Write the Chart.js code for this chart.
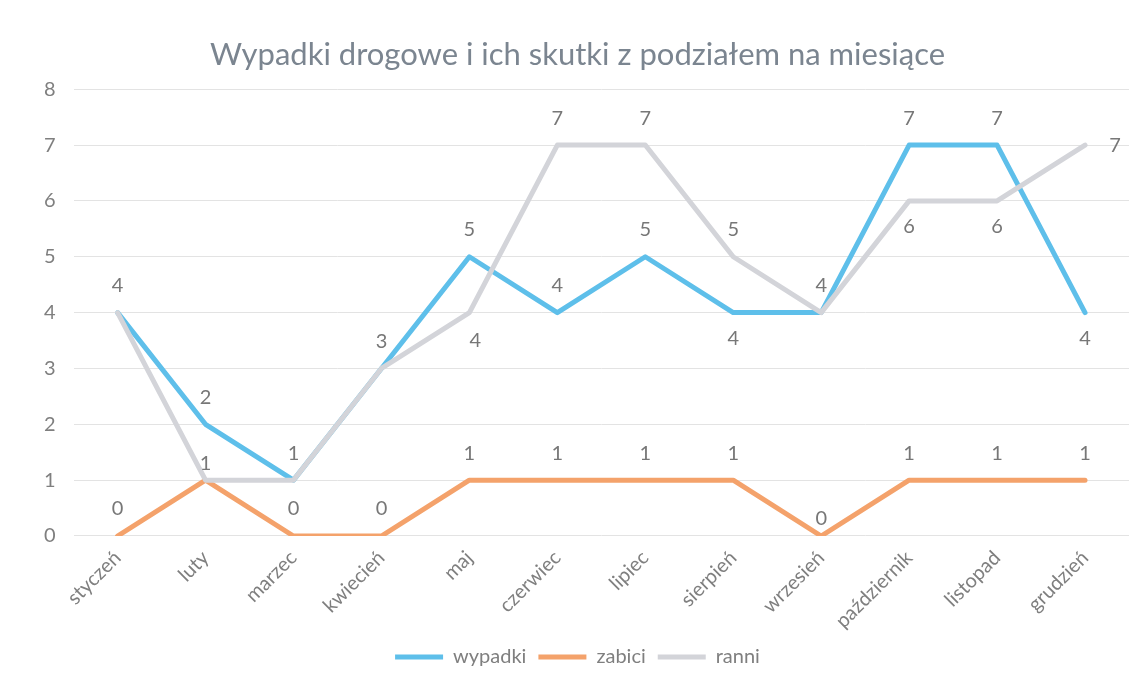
<!DOCTYPE html>
<html>
<head>
<meta charset="utf-8">
<script src="https://cdn.jsdelivr.net/npm/chart.js@4.4.1/dist/chart.umd.min.js"></script>
<style>
  html, body { margin: 0; padding: 0; background: #fff; }
  #wrap { width: 1147px; height: 686px; }
</style>
</head>
<body>
<div id="wrap"><canvas id="accidentsChart"></canvas></div>
<script>
// data
const months = ['styczeń', 'luty', 'marzec', 'kwiecień', 'maj', 'czerwiec', 'lipiec', 'sierpień', 'wrzesień', 'październik', 'listopad', 'grudzień'];
const wypadki = [4, 2, 1, 3, 5, 4, 5, 4, 4, 7, 7, 4];
const zabici = [0, 1, 0, 0, 1, 1, 1, 1, 0, 1, 1, 1];
const ranni = [4, 1, 1, 3, 4, 7, 7, 5, 4, 6, 6, 7];

// where each value label sits: t = above, ts = just above, b = below, r = right, br = below right, '' = hidden
const wypadkiLabelPos = ['t', 't', 't', 't', 't', 't', 't', 'b', 't', 't', 't', 'b'];
const zabiciLabelPos = ['t', '', 't', 't', 't', 't', 't', 't', 'ts', 't', 't', 't'];
const ranniLabelPos = ['', 'ts', '', '', 'br', 't', 't', 't', '', 'b', 'b', 'r'];

const fontFamily = 'Lato, "Open Sans", sans-serif';
const textGray = '#7f7f7f';

const valueLabels = {
    id: 'valueLabels',
    afterDatasetsDraw(chart) {
        const ctx = chart.ctx;
        ctx.save();
        ctx.font = '20px ' + fontFamily;
        ctx.fillStyle = '#777';
        ctx.textAlign = 'center';
        ctx.textBaseline = 'middle';
        chart.data.datasets.forEach((ds, i) => {
            const meta = chart.getDatasetMeta(i);
            meta.data.forEach((pt, j) => {
                const pos = ds.labelPos[j];
                if (!pos) return;
                let x = pt.x, y = pt.y;
                if (pos === 't') y -= 27;
                else if (pos === 'ts') y -= 17;
                else if (pos === 'b') y += 26;
                else if (pos === 'r') x += 30;
                else if (pos === 'br') { x += 6; y += 28; }
                ctx.fillText(String(ds.data[j]), x, y);
            });
        });
        ctx.restore();
    }
};

const makeSet = (label, data, color, labelPos, order) => ({
    label: label,
    data: data,
    borderColor: color,
    backgroundColor: color,
    borderWidth: 5,
    tension: 0,
    pointRadius: 0,
    pointStyle: 'line',
    borderCapStyle: 'round',
    borderJoinStyle: 'round',
    fill: false,
    order: order,
    labelPos: labelPos
});

new Chart(document.getElementById('accidentsChart'), {
    type: 'line',
    data: {
        labels: months,
        datasets: [
            makeSet('wypadki', wypadki, '#5ebfea', wypadkiLabelPos, 2),
            makeSet('zabici', zabici, '#f4a26b', zabiciLabelPos, 1),
            makeSet('ranni', ranni, '#d3d4d9', ranniLabelPos, 0)
        ]
    },
    options: {
        responsive: true,
        maintainAspectRatio: false,
        animation: false,
        layout: { padding: { left: 26, right: 18, top: 36, bottom: 9 } },
        plugins: {
            title: {
                display: true,
                text: 'Wypadki drogowe i ich skutki z podziałem na miesiące',
                color: '#7b8590',
                font: { family: fontFamily, size: 31, weight: 'normal' },
                padding: { top: 0, bottom: 16 }
            },
            legend: {
                position: 'bottom',
                labels: {
                    usePointStyle: true,
                    pointStyleWidth: 48,
                    color: textGray,
                    font: { family: fontFamily, size: 20 },
                    padding: 12,
                    sort: (a, b) => a.datasetIndex - b.datasetIndex
                }
            },
            tooltip: { enabled: false }
        },
        scales: {
            x: {
                offset: true,
                grid: { display: false },
                border: { display: false },
                ticks: {
                    color: textGray,
                    font: { family: fontFamily, size: 20 },
                    minRotation: 45,
                    maxRotation: 45,
                    padding: 2
                }
            },
            y: {
                min: 0,
                max: 8,
                border: { display: false },
                grid: { color: '#e3e3e3', lineWidth: 1, drawTicks: false },
                ticks: {
                    stepSize: 1,
                    color: textGray,
                    font: { family: fontFamily, size: 20 },
                    padding: 18
                }
            }
        }
    },
    plugins: [valueLabels]
});
</script>
</body>
</html>
